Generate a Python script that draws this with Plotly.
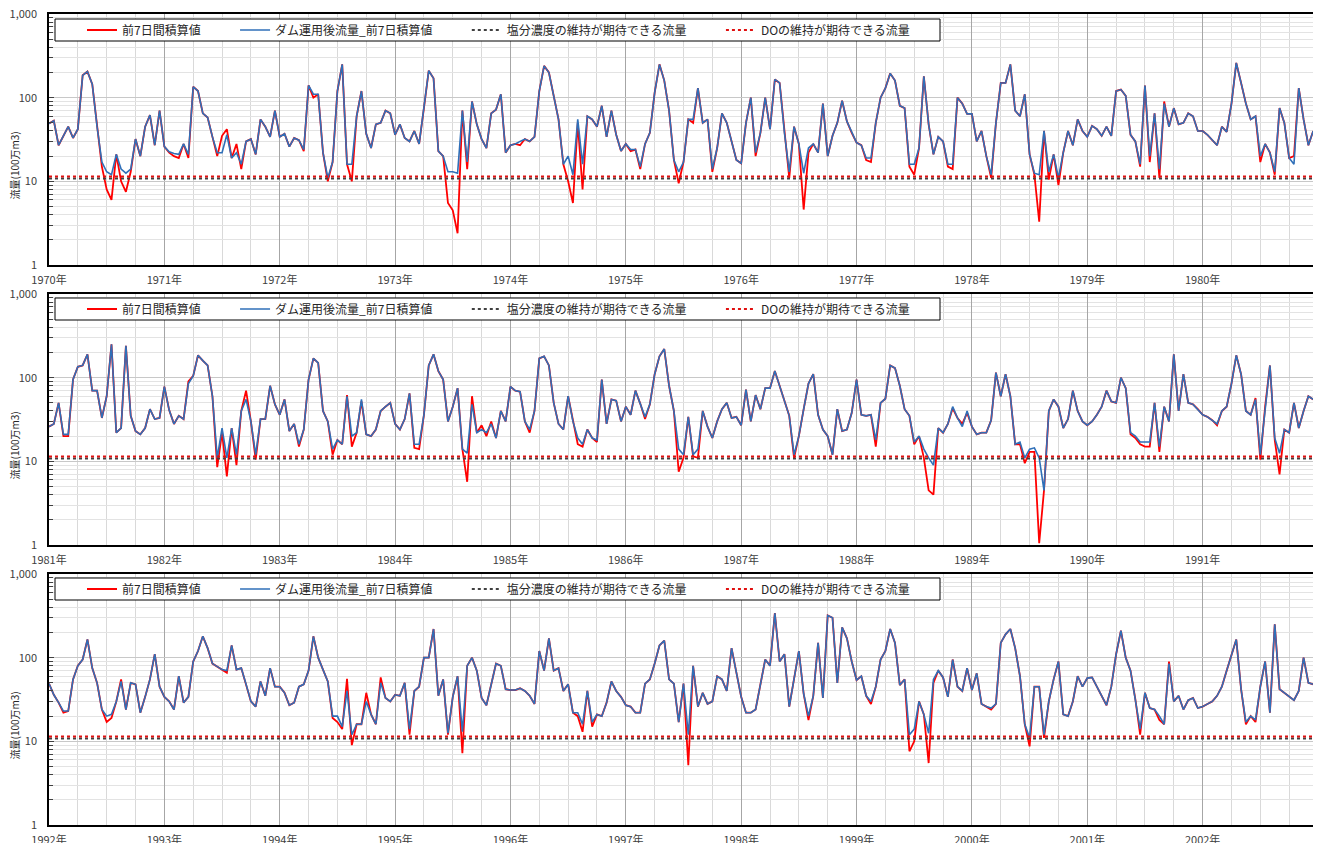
import numpy as np
import plotly.graph_objects as go

# ---------------- data (semi-monthly samples, 24 per year) ----------------
PANEL_START_YEARS = [1970, 1981, 1992]
YEARS_PER_PANEL = 11
SAMPLES_PER_YEAR = 24

SERIES_NAMES = ["前7日間積算値", "ダム運用後流量_前7日積算値",
                "塩分濃度の維持が期待できる流量", "DOの維持が期待できる流量"]
SALT_FLOW = 10.8   # 塩分濃度の維持が期待できる流量
DO_FLOW = 11.4     # DOの維持が期待できる流量

BLUE_P1 = [
    49,53,27,35,45,33,42,185,205,145,45,17,13,12,21,14,12.5,14,32,20,45,62,27,70,
    26,22.5,21.5,21,28,21,135,120,65,58,34,22,22,36,19,22,16,30,32,21,55,45,34,70,
    34,37,26,33,31,24,140,110,110,22,11,17,120,250,16,16,60,120,37,25,48,50,70,65,
    36,48,33,30,40,28,75,210,170,23,20,13,13,12.5,70,17,90,48,32,25,65,72,110,22,
    27,28,30,32,30,34,120,240,200,100,55,16,20,12,55,16,60,55,45,80,34,70,36,23,
    28,24,24,15,28,38,115,250,160,70,18,13,17,55,55,130,50,55,14,25,65,50,30,18,
    16.4,50,100,22,38,100,42,165,150,38,13,45,28,12.5,25,28,22,85,20,35,50,92,52,38,
    29,27,19,19,50,100,130,195,160,80,75,16,16,25,180,48,21,34,30,16,16,100,85,64,
    64,30,40,20,12,50,150,150,250,70,60,110,21,12.5,12,40,13,21,11,22,40,27,55,40,
    34,46,42,35,45,35,120,125,105,36,30,16,140,20,65,14,85,45,75,48,50,65,60,40,
    40,36,31,27,45,39,85,260,150,85,55,60,20,28,22,13,75,50,19,16,130,55,27,40,
]
RED_P1 = [
    49,53,27,35,45,33,42,185,205,145,45,15,8,6,21,10,7.5,13,32,20,45,62,27,70,
    26,22,20,19,28,19,135,120,65,58,34,20,35,42,19,28,14,30,32,21,55,45,34,70,
    34,37,26,33,31,23,140,100,110,22,10,17,120,250,16,10,60,120,37,25,48,50,70,65,
    36,48,33,30,40,28,75,210,170,23,20,5.5,4.5,2.4,70,14,90,48,32,25,65,72,110,22,
    27,28,27,32,30,34,120,240,200,100,55,16,10,5.5,50,8,60,55,45,80,34,70,36,23,
    28,23,24,14,28,38,115,250,160,70,18,9.5,17,55,50,130,50,55,13,25,65,50,30,18,
    16.4,50,100,20,38,100,42,165,150,38,11,45,28,4.6,22,28,22,85,20,35,50,92,52,38,
    29,27,18,17,50,100,130,195,160,80,75,15,12,25,180,48,21,34,30,15,14,100,85,64,
    64,30,40,20,11,50,150,150,250,70,60,110,21,12,3.3,40,10.5,21,9,22,40,27,55,40,
    34,46,42,35,45,35,120,125,105,36,30,15,140,17,65,11,90,45,75,48,50,65,60,40,
    40,36,31,27,45,39,85,260,150,85,55,60,17,28,22,12,75,50,19,20,130,55,27,40,
]
BLUE_P2 = [
    26,28,50,21,21,95,135,140,190,70,70,33,60,250,22,25,240,35,23,21,25,42,32,33,
    78,41,28,35,32,85,105,185,160,140,60,11,25,11,25,12,40,55,30,12,32,32,80,48,
    36,55,23,28,16,24,95,170,150,40,30,14,18,16,60,20,22,55,21,20,24,40,45,50,
    28,24,32,65,16,16,36,140,190,120,95,30,45,75,14,12.5,48,22,24,22,28,19,40,30,
    78,70,68,30,24,40,170,180,140,50,28,24,60,30,19,16,24,19,18,95,28,55,53,30,
    45,36,70,49,34,48,110,180,220,80,40,14,12,34,12,14,40,26,19,30,42,50,33,34,
    27,72,30,62,42,75,75,120,80,50,35,12,20,42,85,110,36,24,20,12,42,23,24,38,
    95,36,35,36,18,50,56,140,130,80,42,35,17,20,14,11,9,25,22,28,45,33,26,40,
    26,21,22,22,31,115,60,110,60,16,17,11,14,14.5,11,4.5,40,55,45,25,32,70,40,30,
    27,30,36,45,70,52,50,100,75,22,20,17,17,17,50,15,45,30,190,40,110,50,48,42,
    36,34,31,28,40,45,85,185,110,40,36,55,12,45,140,19,12.5,24,22,50,25,40,60,55,
]
RED_P2 = [
    26,28,50,20,20,95,135,140,190,70,70,33,60,250,22,25,240,35,23,21,25,42,32,33,
    78,41,28,35,32,90,105,185,160,140,60,8.5,22,6.6,25,9,40,70,30,10.5,32,32,80,48,
    36,55,23,28,15,24,95,170,150,40,30,12,18,16,62,15,22,52,21,20,24,40,45,50,
    28,24,32,65,14.5,14,36,140,190,120,95,30,45,75,14,5.7,60,22,27,20,30,19,40,30,
    78,70,68,30,22,40,170,180,140,50,28,24,60,30,16,15,24,19,17,95,28,55,53,30,
    45,36,70,49,32,48,110,180,220,80,40,7.5,11,34,11.5,11,40,26,19,30,42,50,33,34,
    27,72,30,62,42,75,75,120,80,50,35,11,20,42,85,110,36,24,20,12,42,23,24,38,
    95,36,35,36,15,50,56,140,130,80,42,35,16,20,11,4.5,4,25,22,28,43,33,28,38,
    26,21,22,22,31,115,60,110,60,16,16,9.5,13,13,1.05,4.5,40,55,45,25,32,70,40,30,
    27,30,36,45,70,52,50,100,75,21,19,16,15,15,50,13,45,30,190,40,110,50,48,42,
    36,34,31,27,40,45,85,185,110,40,36,57,10.5,45,140,18,7,24,22,50,25,40,60,55,
]
BLUE_P3 = [
    49,36,29,23,23,55,80,95,165,75,50,24,20,21,30,52,24,50,48,22,34,55,110,45,
    34,30,24,60,29,34,90,120,180,130,85,78,72,70,140,72,75,48,30,26,52,35,75,45,
    45,38,27,29,45,48,70,180,100,72,52,20,20,15,40,12,16,16,30,21,16,50,33,30,
    36,35,50,14,40,45,100,100,220,35,55,12.5,34,60,13,80,100,70,33,27,49,85,80,42,
    41,41,43,40,35,28,120,70,170,70,75,40,48,22,22,16,40,17,21,20,29,52,40,34,
    27,26,22,22,49,55,85,140,160,55,49,17,49,12,80,26,38,28,30,60,55,40,130,65,
    34,22,22,24,49,95,80,340,90,110,26,55,120,37,20,35,150,33,320,300,50,230,170,90,
    54,60,35,30,45,95,120,220,150,47,55,12,14,30,21,12.5,55,70,58,34,95,45,40,75,
    41,65,28,26,25,28,150,190,220,130,60,16,11,45,45,12,30,55,90,21,20,30,60,45,
    57,58,45,35,27,45,110,210,100,70,32,14,38,25,24,20,16,85,30,35,24,31,33,25,
    26,28,30,35,45,70,110,165,42,17,20,18,45,90,22,250,42,38,34,31,40,100,50,48,
]
RED_P3 = [
    49,36,29,22,23,55,80,95,165,75,50,24,17,19,30,55,24,50,48,22,34,55,110,45,
    34,30,24,60,29,34,90,120,180,130,85,78,72,66,140,72,75,48,30,26,52,35,75,45,
    45,38,27,29,45,48,70,180,100,72,52,19,17,14,56,9,16,16,38,21,16,58,33,30,
    36,35,50,12,40,45,100,100,220,35,55,12,34,60,7.2,80,100,70,33,27,49,85,80,42,
    41,41,43,40,35,28,120,70,170,70,75,40,48,22,20,13,40,15,21,20,29,52,40,34,
    27,26,22,22,49,55,85,140,160,55,49,17,49,5.2,80,26,38,28,30,60,55,40,130,65,
    34,22,22,24,49,95,80,340,90,110,26,55,120,37,18,35,150,33,320,300,50,230,170,90,
    54,60,35,28,45,95,120,220,150,47,55,7.6,10,30,21,5.5,50,70,58,34,95,45,40,75,
    41,65,28,26,24,28,150,190,220,130,60,16,8.7,45,45,11,30,55,90,21,20,30,60,45,
    57,58,45,35,27,45,110,210,100,70,32,12,38,25,24,18,16,90,30,35,24,31,33,25,
    26,28,30,35,45,70,110,165,42,16,20,17,45,90,22,250,42,38,34,31,40,100,50,48,
]

RED_PANELS = [RED_P1, RED_P2, RED_P3]
BLUE_PANELS = [BLUE_P1, BLUE_P2, BLUE_P3]

Y_TICK_VALS = [1, 10, 100, 1000]
Y_TICK_TEXT = ["1", "10", "100", "1,000"]
Y_TITLE = "流量(100万m3)"

# ---------------- layout geometry ----------------
# the page body keeps its default 8px margin, so the figure is drawn 8px
# right/down of the window corner; all *_PX values below are window pixels.
BODY_OFFSET = 8
FIG_W, FIG_H = 1313, 835
M_L, M_R, M_T, M_B = 41, 3, 6, 18
PLOT_W = FIG_W - M_L - M_R
PLOT_H = FIG_H - M_T - M_B
PANEL_PX = [(14, 265), (294, 545), (574, 825)]
LEGEND_BOX_PX = [(19, 41), (298, 320), (578, 600)]
LEGEND_BOX_X_PX = (55, 940)
LEGEND_X_PX = 82
Y_TITLE_X_PX = 14
Y_TITLE_OFFSET_PX = 26

FONT = "Noto Sans CJK JP, Noto Sans, sans-serif"
RED = "#FF0000"
BLUE = "#2F6FB8"
SALT_COLOR = "#404040"
DO_COLOR = "#E01010"
PAD = "\u3000\u3000\u00a0\u00a0"


def px_x(px):
    return (px - BODY_OFFSET - M_L) / PLOT_W


def px_y(py):
    return (FIG_H - M_B - (py - BODY_OFFSET)) / PLOT_H


fig = go.Figure()
layout = dict(
    width=FIG_W, height=FIG_H,
    margin=dict(l=M_L, r=M_R, t=M_T, b=M_B, autoexpand=False),
    paper_bgcolor="white", plot_bgcolor="white",
    font=dict(family=FONT, size=11, color="#262626"),
    showlegend=True,
    shapes=[], annotations=[],
)

minor_y = [m * 10 ** e for e in range(0, 3) for m in range(2, 10)]

for i, start in enumerate(PANEL_START_YEARS):
    sfx = "" if i == 0 else str(i + 1)
    xa, ya = "x" + sfx, "y" + sfx
    leg = "legend" + sfx
    n = len(BLUE_PANELS[i])
    x = start + np.arange(n) / SAMPLES_PER_YEAR
    end = start + YEARS_PER_PANEL

    fig.add_trace(go.Scatter(x=x, y=RED_PANELS[i], mode="lines", name=SERIES_NAMES[0] + PAD,
                             line=dict(color=RED, width=1.8), xaxis=xa, yaxis=ya, legend=leg))
    fig.add_trace(go.Scatter(x=x, y=BLUE_PANELS[i], mode="lines", name=SERIES_NAMES[1] + PAD,
                             line=dict(color=BLUE, width=1.6), xaxis=xa, yaxis=ya, legend=leg))
    fig.add_trace(go.Scatter(x=[start, end], y=[SALT_FLOW, SALT_FLOW], mode="lines",
                             name=SERIES_NAMES[2] + PAD,
                             line=dict(color=SALT_COLOR, width=2, dash="dot"),
                             xaxis=xa, yaxis=ya, legend=leg))
    fig.add_trace(go.Scatter(x=[start, end], y=[DO_FLOW, DO_FLOW], mode="lines",
                             name=SERIES_NAMES[3],
                             line=dict(color=DO_COLOR, width=2, dash="dot"),
                             xaxis=xa, yaxis=ya, legend=leg))

    top, bot = PANEL_PX[i]
    years = list(range(start, end))
    layout["xaxis" + sfx] = dict(
        domain=[0, 1], anchor=ya, range=[start, end],
        tickmode="array", tickvals=years, ticktext=[f"{y}年" for y in years],
        showgrid=True, gridcolor="#a6a6a6", gridwidth=1,
        minor=dict(dtick=0.25, tick0=start, showgrid=True, gridcolor="#d9d9d9", gridwidth=1),
        showline=True, linecolor="#000000", linewidth=1.5, mirror=True,
        ticks="", zeroline=False, ticklabelstandoff=4, ticklabeloverflow="allow",
        tickfont=dict(size=11, color="#404040"),
    )
    layout["yaxis" + sfx] = dict(
        domain=[px_y(bot), px_y(top)], anchor=xa, type="log", range=[0, 3],
        tickmode="array", tickvals=Y_TICK_VALS, ticktext=Y_TICK_TEXT,
        showgrid=True, gridcolor="#c8c8c8", gridwidth=1,
        minor=dict(tickmode="array", tickvals=minor_y, showgrid=True, gridcolor="#e3e3e3",
                   gridwidth=1, ticks="inside", ticklen=4, tickcolor="#404040"),
        ticks="inside", ticklen=5, tickcolor="#404040",
        showline=True, linecolor="#000000", linewidth=1.5, mirror=True,
        zeroline=False, ticklabelstandoff=8, ticklabeloverflow="allow",
        tickfont=dict(size=11, color="#404040"),
    )
    ltop, lbot = LEGEND_BOX_PX[i]
    layout["shapes"].append(dict(
        type="rect", xref="paper", yref="paper", layer="above",
        x0=px_x(LEGEND_BOX_X_PX[0]), x1=px_x(LEGEND_BOX_X_PX[1]),
        y0=px_y(lbot), y1=px_y(ltop),
        fillcolor="white", line=dict(color="#000000", width=1),
    ))
    layout[leg] = dict(
        orientation="h", x=px_x(LEGEND_X_PX), xanchor="left",
        y=px_y((ltop + lbot) / 2), yanchor="middle",
        bgcolor="rgba(0,0,0,0)", borderwidth=0,
        font=dict(family=FONT, size=12, color="#262626"),
        itemwidth=30, tracegroupgap=0,
    )
    layout["annotations"].append(dict(
        text=Y_TITLE, xref="paper", yref="paper",
        x=px_x(Y_TITLE_X_PX), y=px_y((top + bot) / 2 + Y_TITLE_OFFSET_PX),
        xanchor="center", yanchor="middle", textangle=-90, showarrow=False,
        font=dict(family=FONT, size=10, color="#262626"),
    ))

fig.update_layout(**layout)
fig.write_html("out.html")
